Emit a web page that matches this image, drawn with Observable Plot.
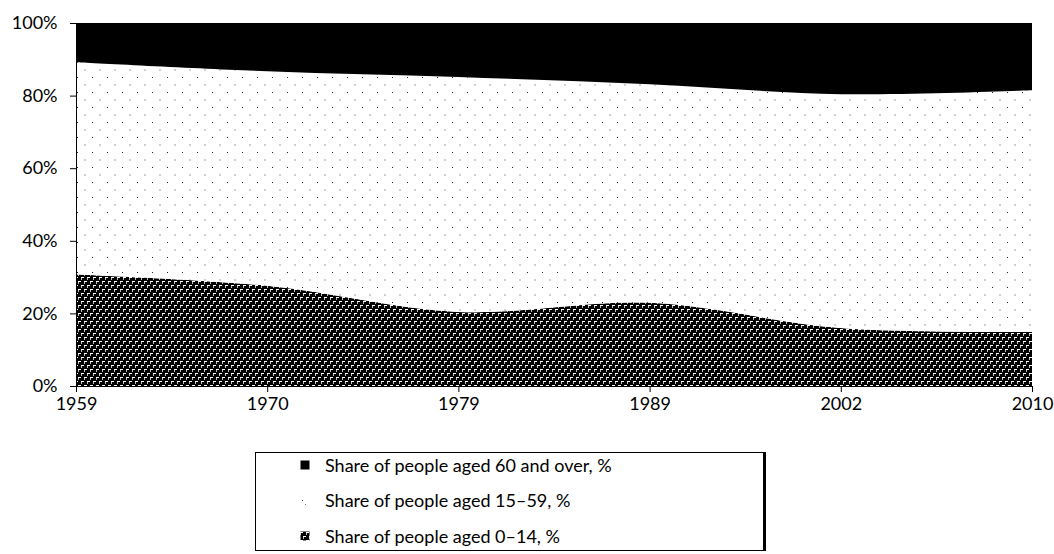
<!DOCTYPE html>
<html>
<head>
<meta charset="utf-8">
<script src="https://cdn.jsdelivr.net/npm/d3@7"></script>
<script src="https://cdn.jsdelivr.net/npm/@observablehq/plot@0.6"></script>
<style>
  html, body { margin: 0; padding: 0; background: #fff; }
  body { width: 1054px; height: 554px; position: relative; overflow: hidden; font-family: Lato, "Open Sans", sans-serif; }
  #chart { position: absolute; left: 0; top: 0; }
  #legend { position: absolute; left: 255px; top: 452px; width: 511px; height: 99px; border: 1px solid #000; border-right: 3px solid #000; box-sizing: border-box; }
  .item { position: absolute; left: 44px; height: 22px; display: flex; align-items: center; font-size: 18px; color: #000; }
  .item svg { margin-right: 15px; }
</style>
</head>
<body>
<svg width="0" height="0" style="position:absolute">
  <defs>
    <pattern id="pDots" patternUnits="userSpaceOnUse" width="15" height="15">
      <rect width="15" height="15" fill="#fff"/>
      <rect x="2" y="2" width="1" height="1" fill="#222"/>
      <rect x="9.5" y="9.5" width="1" height="1" fill="#444"/>
    </pattern>
    <pattern id="pWeave" patternUnits="userSpaceOnUse" width="6" height="8">
      <rect width="6" height="8" fill="#000"/>
      <rect x="0" y="1" width="3" height="1" fill="#fff"/>
      <rect x="3" y="5" width="3" height="1" fill="#fff"/>
      <rect x="0" y="2" width="1" height="2" fill="#bbb"/>
      <rect x="3" y="6" width="1" height="2" fill="#bbb"/>
    </pattern>
  </defs>
</svg>
<div id="chart"></div>
<div id="legend"></div>
<script>
const years = ["1959", "1970", "1979", "1989", "2002", "2010"];
const share0to14 = [30.7, 27.6, 20.4, 22.9, 16.0, 14.9];
const share15to59 = [58.5, 59.1, 64.7, 60.2, 64.4, 66.6];
const share60plus = [10.8, 13.3, 14.9, 16.9, 19.6, 18.5];
const seriesNames = ["Share of people aged 0–14, %", "Share of people aged 15–59, %", "Share of people aged 60 and over, %"];
const yTicks = [0, 20, 40, 60, 80, 100];

const fills = ["url(#pWeave)", "url(#pDots)", "#000"];
const seriesValues = [share0to14, share15to59, share60plus];

const data = [];
seriesValues.forEach((vals, s) => {
  vals.forEach((v, i) => data.push({ i, year: years[i], group: seriesNames[s], fill: fills[s], value: v }));
});

const chart = Plot.plot({
  width: 1054,
  height: 430,
  marginLeft: 76,
  marginRight: 22,
  marginTop: 23,
  marginBottom: 44,
  style: { fontFamily: "Lato, 'Open Sans', sans-serif", fontSize: "18px", color: "#000", background: "transparent" },
  x: { type: "linear", domain: [0, years.length - 1] },
  y: { domain: [0, 100] },
  color: { type: "identity" },
  marks: [
    Plot.areaY(data, { x: "i", y: "value", z: "group", fill: "fill", curve: "catmull-rom" }),
    Plot.ruleY([0], { stroke: "#000", strokeWidth: 1 }),
    Plot.ruleX([0], { stroke: "#000", strokeWidth: 1 }),
    Plot.axisY({ ticks: yTicks, tickFormat: d => d + "%", tickSize: 6, tickPadding: 13, label: null, fontSize: 18 }),
    Plot.axisX({ ticks: d3.range(years.length), tickFormat: i => years[i], tickSize: 6, tickPadding: 5, label: null, fontSize: 18 })
  ]
});
document.getElementById("chart").appendChild(chart);

// Legend (top to bottom: 60+, 15-59, 0-14)
const legend = document.getElementById("legend");
const legendOrder = [2, 1, 0];
const rowTops = [1, 36, 72];
legendOrder.forEach((s, k) => {
  const item = document.createElement("div");
  item.className = "item";
  item.style.top = rowTops[k] + "px";
  let sw;
  if (s === 2) sw = `<svg width="10" height="10"><rect x="0.5" y="0.5" width="9" height="9" fill="#000"/></svg>`;
  else if (s === 1) sw = `<svg width="10" height="10"><rect x="2" y="5" width="1" height="1" fill="#444"/><rect x="5" y="9" width="1" height="1" fill="#666"/></svg>`;
  else sw = `<svg width="10" height="10"><rect x="0.5" y="0.5" width="9" height="9" fill="url(#pWeave)"/></svg>`;
  item.innerHTML = sw + `<span>${seriesNames[s]}</span>`;
  legend.appendChild(item);
});
</script>
</body>
</html>
